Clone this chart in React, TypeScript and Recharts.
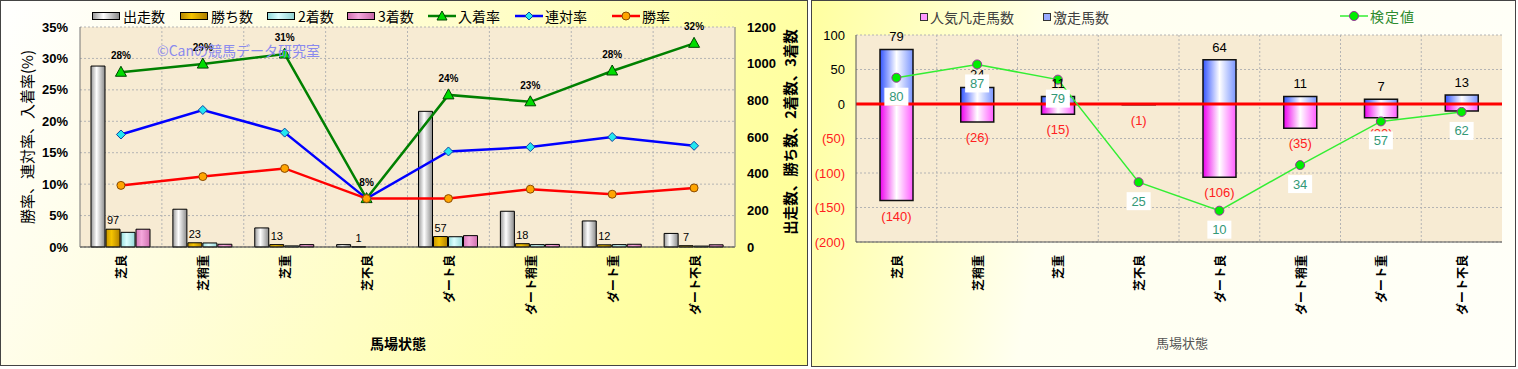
import React from 'react';
import { ComposedChart, Bar, Line, XAxis, YAxis, CartesianGrid, LabelList, ReferenceLine } from 'recharts';

const categories = ['芝良', '芝稍重', '芝重', '芝不良', 'ダート良', 'ダート稍重', 'ダート重', 'ダート不良'];

// left chart
const starters = [987, 206, 104, 13, 740, 195, 142, 74];
const wins = [97, 23, 13, 1, 57, 18, 12, 7];
const seconds = [80, 22, 6, 0, 56, 13, 13, 5];
const thirds = [97, 15, 13, 0, 62, 14, 15, 12];
const placeRate = [27.8, 29.1, 30.7, 7.7, 24.2, 23.1, 28.0, 32.4];
const quinellaRate = [17.9, 21.8, 18.2, 7.7, 15.2, 15.9, 17.5, 16.1];
const winRate = [9.8, 11.2, 12.5, 7.7, 7.7, 9.2, 8.4, 9.4];
const rateTicks = [0, 5, 10, 15, 20, 25, 30, 35];
const countTicks = [0, 200, 400, 600, 800, 1000, 1200];

// right chart
const flopCount = [-140, -26, -15, -1, -106, -35, -20, -10];
const upsetCount = [79, 24, 11, 0, 64, 11, 7, 13];
const testValue = [80, 87, 79, 25, 10, 34, 57, 62];
const diffTicks = [-200, -150, -100, -50, 0, 50, 100];

const leftData = categories.map((name, i) => ({
  name,
  starters: starters[i],
  wins: wins[i],
  seconds: seconds[i],
  thirds: thirds[i],
  placeRate: placeRate[i],
  quinellaRate: quinellaRate[i],
  winRate: winRate[i],
}));

const rightData = categories.map((name, i) => ({
  name,
  flop: flopCount[i],
  upset: upsetCount[i],
  test: testValue[i],
}));

const JP = "'Noto Sans CJK JP', sans-serif";
const NUM = "'Liberation Sans', Arial, sans-serif";

const boundaries = ({ offset }: any) =>
  [1, 2, 3, 4, 5, 6, 7].map((i) => offset.left + (i * offset.width) / 8);

const CatTick = ({ x, y, payload }: any) => (
  <text
    x={x}
    y={y}
    transform={`rotate(-90, ${x}, ${y})`}
    textAnchor="end"
    dominantBaseline="central"
    fontFamily={JP}
    fontWeight="bold"
    fontSize={12}
    fill="#000"
  >
    {payload.value}
  </text>
);

const RateTick = ({ x, y, payload }: any) => (
  <text x={x} y={y} textAnchor="end" dominantBaseline="central" fontFamily={NUM} fontWeight="bold" fontSize={13} fill="#000">
    {`${payload.value}%`}
  </text>
);

const CountTick = ({ x, y, payload }: any) => (
  <text x={x} y={y} textAnchor="start" dominantBaseline="central" fontFamily={NUM} fontWeight="bold" fontSize={13} fill="#000">
    {payload.value}
  </text>
);

const DiffTick = ({ x, y, payload }: any) => {
  const v = payload.value;
  return (
    <text x={x} y={y} textAnchor="end" dominantBaseline="central" fontFamily={NUM} fontSize={13} fill={v < 0 ? '#ff2020' : '#000'}>
      {v < 0 ? `(${-v})` : v}
    </text>
  );
};

const rectOf = (p: any) => {
  const x = p.x ?? p.viewBox?.x ?? 0;
  const y = p.y ?? p.viewBox?.y ?? 0;
  const w = p.width ?? p.viewBox?.width ?? 0;
  const h = p.height ?? p.viewBox?.height ?? 0;
  return { x, w, top: Math.min(y, y + h), bottom: Math.max(y, y + h) };
};

const WinLabel = (p: any) => {
  const r = rectOf(p);
  return (
    <text x={r.x + r.w / 2} y={r.top - 5} textAnchor="middle" fontFamily={NUM} fontSize={11} fill="#000">
      {p.value}
    </text>
  );
};

const PlaceLabel = (p: any) => (
  <text x={p.x} y={p.y - 13} textAnchor="middle" fontFamily={NUM} fontWeight="bold" fontSize={10} fill="#000">
    {`${Math.round(p.value)}%`}
  </text>
);

const UpsetLabel = (p: any) => {
  if (!p.value) return null;
  const r = rectOf(p);
  return (
    <text x={r.x + r.w / 2} y={r.top - 8} textAnchor="middle" fontFamily={NUM} fontSize={13} fill="#000">
      {p.value}
    </text>
  );
};

const FlopLabel = (p: any) => {
  const r = rectOf(p);
  return (
    <text x={r.x + r.w / 2} y={r.bottom + 20} textAnchor="middle" fontFamily={NUM} fontSize={13} fill="#ff2020">
      {`(${-p.value})`}
    </text>
  );
};

const TestLabel = (p: any) => {
  const cy = p.y + 19;
  return (
    <g>
      <rect x={p.x - 12} y={cy - 9} width={24} height={18} fill="#ffffff" />
      <text x={p.x} y={cy} textAnchor="middle" dominantBaseline="central" fontFamily={NUM} fontSize={13} fill="#339977">
        {p.value}
      </text>
    </g>
  );
};

const Triangle = (p: any) => (
  <polygon
    key={`t${p.index}`}
    points={`${p.cx},${p.cy - 6} ${p.cx - 5.5},${p.cy + 4} ${p.cx + 5.5},${p.cy + 4}`}
    fill="#00dd00"
    stroke="#004400"
    strokeWidth={1}
  />
);

const Diamond = (p: any) => (
  <polygon
    key={`d${p.index}`}
    points={`${p.cx},${p.cy - 4.5} ${p.cx + 4.5},${p.cy} ${p.cx},${p.cy + 4.5} ${p.cx - 4.5},${p.cy}`}
    fill="#22e8f0"
    stroke="#1040a0"
    strokeWidth={1}
  />
);

const OrangeDot = (p: any) => (
  <circle key={`o${p.index}`} cx={p.cx} cy={p.cy} r={4} fill="#ffa500" stroke="#8a4a00" strokeWidth={1} />
);

const GreenDot = (p: any) => (
  <circle key={`g${p.index}`} cx={p.cx} cy={p.cy} r={4.5} fill="#00ee00" stroke="#993399" strokeWidth={1} />
);

const cyl = (id: string, a: string, b: string, c: string) => (
  <linearGradient id={id} x1="0" y1="0" x2="1" y2="0">
    <stop offset="0%" stopColor={a} />
    <stop offset="40%" stopColor={b} />
    <stop offset="100%" stopColor={c} />
  </linearGradient>
);

const BarIcon = ({ bg }: { bg: string }) => (
  <div style={{ width: 26, height: 6, border: '1px solid #000', background: bg, marginRight: 3 }} />
);

const LineIcon = ({ color, marker }: { color: string; marker: React.ReactNode }) => (
  <svg width={28} height={12} style={{ marginRight: 2 }}>
    <line x1={0} y1={6} x2={28} y2={6} stroke={color} strokeWidth={2.5} />
    {marker}
  </svg>
);

const leftLegend = [
  { left: 92, label: '出走数', icon: <BarIcon bg="linear-gradient(90deg,#9a9a9a,#ffffff 40%,#8a8a8a)" /> },
  { left: 180, label: '勝ち数', icon: <BarIcon bg="linear-gradient(90deg,#b88a00,#f5c400 40%,#b08000)" /> },
  { left: 267, label: '2着数', icon: <BarIcon bg="linear-gradient(90deg,#90d8d8,#dcffff 40%,#90d0d0)" /> },
  { left: 347, label: '3着数', icon: <BarIcon bg="linear-gradient(90deg,#d070b0,#f5a8dc 40%,#c868a8)" /> },
  {
    left: 428,
    label: '入着率',
    icon: <LineIcon color="#008000" marker={<polygon points="14,1 9,10 19,10" fill="#00dd00" stroke="#004400" />} />,
  },
  {
    left: 515,
    label: '連対率',
    icon: <LineIcon color="#0000ff" marker={<polygon points="14,2 18,6 14,10 10,6" fill="#22e8f0" stroke="#1040a0" />} />,
  },
  {
    left: 612,
    label: '勝率',
    icon: <LineIcon color="#ff0000" marker={<circle cx={14} cy={6} r={4} fill="#ffa500" stroke="#8a4a00" />} />,
  },
];

const abs = (left: number, top: number, extra: React.CSSProperties = {}): React.CSSProperties => ({
  position: 'absolute',
  left,
  top,
  whiteSpace: 'nowrap',
  ...extra,
});

export default function App() {
  return (
    <div style={{ position: 'absolute', left: 0, top: 0, width: 1518, height: 369, background: '#ffffff', overflow: 'hidden' }}>
      {/* panels */}
      <div
        style={abs(0, 0, {
          width: 808,
          height: 366,
          boxSizing: 'border-box',
          border: '1px solid #444',
          background: 'linear-gradient(120deg, #ffffff 0%, #fffde0 30%, #ffffa8 75%, #ffff90 100%)',
        })}
      />
      <div
        style={abs(811, 0, {
          width: 705,
          height: 367,
          boxSizing: 'border-box',
          border: '1px solid #444',
          background: 'linear-gradient(100deg, #ffffa0 0%, #fffff0 35%, #fffff8 100%)',
        })}
      />

      {/* left chart */}
      <div style={abs(0, 0)}>
        <ComposedChart width={808} height={366} data={leftData} margin={{ top: 27, right: 0, bottom: 0, left: 0 }} barSize={14} barGap={1}>
          <defs>
            {cyl('gStart', '#9a9a9a', '#ffffff', '#8a8a8a')}
            {cyl('gWin', '#c89600', '#f5c400', '#b08000')}
            {cyl('gSecond', '#98dede', '#dcffff', '#98d8d8')}
            {cyl('gThird', '#d878b8', '#f5a8dc', '#d070b0')}
          </defs>
          <CartesianGrid
            yAxisId="rate"
            fill="#f7ebd3"
            stroke="#b4b4b4"
            strokeDasharray="2 2"
            verticalCoordinatesGenerator={boundaries}
          />
          <XAxis dataKey="name" height={119} interval={0} tick={<CatTick />} tickLine={false} axisLine={{ stroke: '#333' }} />
          <YAxis
            yAxisId="rate"
            width={80}
            domain={[0, 35]}
            ticks={rateTicks}
            tick={<RateTick />}
            tickLine={false}
            tickMargin={6}
            axisLine={{ stroke: '#777' }}
          />
          <YAxis
            yAxisId="count"
            orientation="right"
            width={73}
            domain={[0, 1200]}
            ticks={countTicks}
            tick={<CountTick />}
            tickLine={false}
            tickMargin={6}
            axisLine={{ stroke: '#777' }}
          />
          <Bar yAxisId="count" dataKey="starters" fill="url(#gStart)" stroke="#000" strokeWidth={1} isAnimationActive={false} />
          <Bar yAxisId="count" dataKey="wins" fill="url(#gWin)" stroke="#000" strokeWidth={1} isAnimationActive={false}>
            <LabelList dataKey="wins" content={WinLabel} />
          </Bar>
          <Bar yAxisId="count" dataKey="seconds" fill="url(#gSecond)" stroke="#000" strokeWidth={1} isAnimationActive={false} />
          <Bar yAxisId="count" dataKey="thirds" fill="url(#gThird)" stroke="#000" strokeWidth={1} isAnimationActive={false} />
          <Line yAxisId="rate" dataKey="placeRate" stroke="#008000" strokeWidth={2.5} dot={Triangle} activeDot={false} isAnimationActive={false}>
            <LabelList dataKey="placeRate" content={PlaceLabel} />
          </Line>
          <Line yAxisId="rate" dataKey="quinellaRate" stroke="#0000ff" strokeWidth={2.5} dot={Diamond} activeDot={false} isAnimationActive={false} />
          <Line yAxisId="rate" dataKey="winRate" stroke="#ff0000" strokeWidth={2.5} dot={OrangeDot} activeDot={false} isAnimationActive={false} />
        </ComposedChart>
      </div>

      {/* left overlays */}
      {leftLegend.map((it) => (
        <div key={it.label} style={abs(it.left, 7, { height: 18, display: 'flex', alignItems: 'center', fontFamily: JP, fontSize: 14, color: '#000' })}>
          {it.icon}
          <span>{it.label}</span>
        </div>
      ))}
      <div style={abs(157, 40, { fontFamily: JP, fontSize: 14, color: '#8a8aee', lineHeight: '20px' })}>©Canの競馬データ研究室</div>
      <div
        style={abs(26, 137, {
          transform: 'translate(-50%, -50%) rotate(-90deg)',
          fontFamily: JP,
          fontSize: 15,
          color: '#000',
        })}
      >
        勝率、連対率、入着率(%)
      </div>
      <div
        style={abs(789, 132, {
          transform: 'translate(-50%, -50%) rotate(-90deg)',
          fontFamily: JP,
          fontSize: 14.5,
          fontWeight: 'bold',
          color: '#000',
        })}
      >
        出走数、勝ち数、2着数、3着数
      </div>
      <div style={abs(398, 343, { transform: 'translate(-50%, -50%)', fontFamily: JP, fontSize: 14, fontWeight: 'bold', color: '#000' })}>
        馬場状態
      </div>

      {/* right chart */}
      <div style={abs(811, 0)}>
        <ComposedChart width={705} height={365} data={rightData} margin={{ top: 35, right: 14, bottom: 0, left: 0 }} stackOffset="sign" barSize={33}>
          <defs>
            <linearGradient id="gBlue" x1="0" y1="0" x2="1" y2="0">
              <stop offset="0%" stopColor="#3355ff" />
              <stop offset="50%" stopColor="#ffffff" />
              <stop offset="100%" stopColor="#7a95ff" />
            </linearGradient>
            <linearGradient id="gPink" x1="0" y1="0" x2="1" y2="0">
              <stop offset="0%" stopColor="#ee00ee" />
              <stop offset="50%" stopColor="#ffffff" />
              <stop offset="100%" stopColor="#ff5cff" />
            </linearGradient>
          </defs>
          <CartesianGrid
            yAxisId="diff"
            fill="#f7ebd3"
            stroke="#b4b4b4"
            strokeDasharray="2 2"
            verticalCoordinatesGenerator={boundaries}
          />
          <XAxis dataKey="name" height={123} interval={0} tick={<CatTick />} tickLine={false} tickMargin={7} axisLine={{ stroke: '#555' }} />
          <YAxis
            yAxisId="diff"
            width={45}
            domain={[-200, 100]}
            ticks={diffTicks}
            tick={<DiffTick />}
            tickLine={false}
            tickSize={5}
            tickMargin={6}
            axisLine={{ stroke: '#555' }}
          />
          <YAxis yAxisId="test" hide domain={[-6.5, 102.5]} />
          <Bar yAxisId="diff" dataKey="flop" stackId="a" fill="url(#gPink)" stroke="#111" strokeWidth={1.5} isAnimationActive={false}>
            <LabelList dataKey="flop" content={FlopLabel} />
          </Bar>
          <Bar yAxisId="diff" dataKey="upset" stackId="a" fill="url(#gBlue)" stroke="#111" strokeWidth={1.5} isAnimationActive={false}>
            <LabelList dataKey="upset" content={UpsetLabel} />
          </Bar>
          <ReferenceLine yAxisId="diff" y={0} stroke="#ff0000" strokeWidth={3} />
          <Line yAxisId="test" dataKey="test" stroke="#33ee33" strokeWidth={1.5} dot={GreenDot} activeDot={false} isAnimationActive={false}>
            <LabelList dataKey="test" content={TestLabel} />
          </Line>
        </ComposedChart>
      </div>

      {/* right overlays */}
      <div style={abs(920, 8, { height: 18, display: 'flex', alignItems: 'center', fontFamily: JP, fontSize: 14, color: '#404040' })}>
        <div style={{ width: 6, height: 6, border: '1px solid #333', background: '#ff99ff', marginRight: 2 }} />
        <span>人気凡走馬数</span>
      </div>
      <div style={abs(1043, 8, { height: 18, display: 'flex', alignItems: 'center', fontFamily: JP, fontSize: 14, color: '#404040' })}>
        <div style={{ width: 6, height: 6, border: '1px solid #333', background: '#99aaff', marginRight: 2 }} />
        <span>激走馬数</span>
      </div>
      <div style={abs(1340, 7, { height: 18, display: 'flex', alignItems: 'center', fontFamily: JP, fontSize: 14, color: '#2e8b2e' })}>
        <svg width={28} height={12} style={{ marginRight: 2 }}>
          <line x1={0} y1={6} x2={28} y2={6} stroke="#33ee33" strokeWidth={1.5} />
          <circle cx={14} cy={6} r={4.5} fill="#00ee00" stroke="#993399" />
        </svg>
        <span style={{ letterSpacing: 1 }}>検定値</span>
      </div>
      <div style={abs(1182, 342, { transform: 'translate(-50%, -50%)', fontFamily: JP, fontSize: 13, color: '#555' })}>馬場状態</div>
    </div>
  );
}
